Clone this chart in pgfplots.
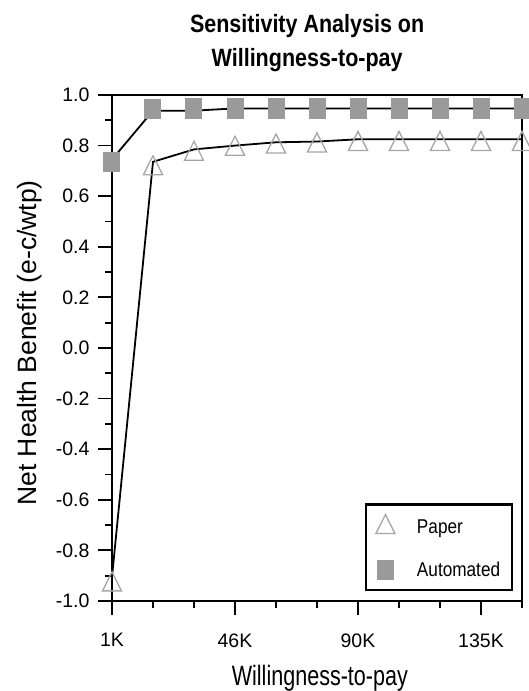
\documentclass[border=0pt]{standalone}
\usepackage{pgfplots}
\pgfplotsset{compat=1.18}
\usepackage{fontspec}
\setmainfont{Liberation Sans}
\definecolor{sqgray}{HTML}{9A9A9A}
\definecolor{trigray}{HTML}{A6A6A6}
\begin{document}
\begin{tikzpicture}
\useasboundingbox (0pt,0pt) rectangle (528pt,691pt);
\begin{axis}[
  at={(112pt,90pt)}, anchor=south west,
  width=410pt, height=506pt, scale only axis,
  xmin=0, xmax=10, ymin=-1, ymax=1,
  axis line style={line width=2pt},
  every tick/.style={black, line width=1.8pt},
  tick align=outside, tick pos=left,
  major tick length=14pt, minor tick length=7pt,
  xtick={0,3,6,9}, xticklabels={1K,46K,90K,135K},
  minor xtick={1,2,4,5,7,8,10},
  ytick={-1,-0.8,-0.6,-0.4,-0.2,0,0.2,0.4,0.6,0.8,1},
  yticklabels={-1.0,-0.8,-0.6,-0.4,-0.2,0.0,0.2,0.4,0.6,0.8,1.0},
  minor ytick={-0.9,-0.7,-0.5,-0.3,-0.1,0.1,0.3,0.5,0.7,0.9},
  tick label style={font=\fontsize{19.5}{22}\selectfont},
  xticklabel style={yshift=-15pt},
  yticklabel style={xshift=-5pt},
  /pgf/number format/assume math mode=true,
  title={\scalebox{0.86}[1]{Sensitivity Analysis on}\\\scalebox{0.86}[1]{Willingness-to-pay}},
  title style={align=center, font=\fontsize{25}{34}\selectfont\bfseries,
    at={(axis description cs:0.476,1)}, anchor=south, inner sep=0pt, yshift=17pt},
  xlabel={\scalebox{0.77}[1]{Willingness-to-pay}},
  xlabel style={font=\fontsize{28}{32}\selectfont, at={(axis description cs:0.507,0)}, anchor=base, inner sep=0pt, yshift=-84pt},
  ylabel={Net Health Benefit (e-c/wtp)},
  ylabel style={font=\fontsize{26.5}{30}\selectfont, at={(axis description cs:-0.183,0.51)}, anchor=base, inner sep=0pt},
  legend style={at={(0.976,0.022)}, anchor=south east, draw=black, line width=2.2pt, outer sep=0pt,
    font=\fontsize{20}{24}\selectfont, row sep=23pt, column sep=20pt, inner xsep=10pt, inner ysep=10pt},
  legend cell align=left,
]
\addplot[only marks, mark=triangle, mark size=11pt,
  mark options={draw=trigray, line width=1.3pt, fill=white, yscale=1.15}]
  coordinates {(0,-0.935) (1,0.71) (2,0.767) (3,0.787) (4,0.796) (5,0.80) (6,0.806) (7,0.806) (8,0.806) (9,0.806) (10,0.806)};
\addlegendentry{\scalebox{0.86}[1]{Paper}}
\addplot[only marks, mark=square*, mark size=8pt,
  mark options={draw=sqgray, fill=sqgray, line width=0pt, yscale=1.2}]
  coordinates {(0,0.735) (1,0.945) (2,0.947) (3,0.947) (4,0.947) (5,0.947) (6,0.947) (7,0.947) (8,0.947) (9,0.947) (10,0.947)};
\addlegendentry{\scalebox{0.86}[1]{Automated}}
\addplot[black, line width=1.8pt, forget plot]
  coordinates {(0,-0.905) (1,0.736) (2,0.785) (3,0.80) (4,0.813) (5,0.816) (6,0.825) (7,0.825) (8,0.825) (9,0.825) (10,0.825)};
\addplot[black, line width=1.8pt, forget plot]
  coordinates {(0,0.745) (1,0.938) (2,0.938) (3,0.947) (4,0.947) (5,0.947) (6,0.947) (7,0.947) (8,0.947) (9,0.947) (10,0.947)};
\end{axis}
\end{tikzpicture}
\end{document}
